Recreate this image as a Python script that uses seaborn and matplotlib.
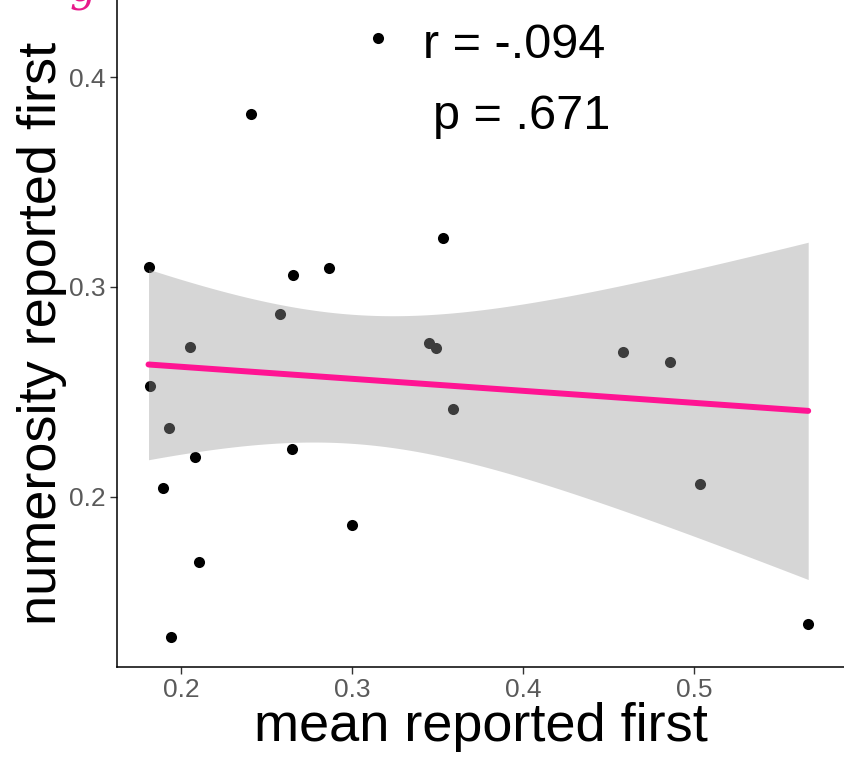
import numpy as np
import matplotlib
matplotlib.use("Agg")
import matplotlib.pyplot as plt
import seaborn as sns

sns.set_style("white")
plt.rcParams["font.family"] = ["Liberation Sans", "DejaVu Sans"]

# values
mean_first = [0.181, 0.182, 0.193, 0.1895, 0.205, 0.208, 0.2105, 0.194,
              0.241, 0.258, 0.2655, 0.265, 0.2865, 0.300, 0.315, 0.353,
              0.345, 0.349, 0.359, 0.4585, 0.4855, 0.503, 0.5665]
numerosity_first = [0.3095, 0.2529, 0.2329, 0.2043, 0.2714, 0.219, 0.169, 0.1333,
                    0.3824, 0.2871, 0.3057, 0.2229, 0.309, 0.1867, 0.4186, 0.3233,
                    0.2733, 0.271, 0.2419, 0.269, 0.2643, 0.2062, 0.1395]
stats_text = ["r = -.094", "p = .671"]

x = np.array(mean_first)
y = np.array(numerosity_first)

fig = plt.figure(figsize=(8.45, 7.64), dpi=100)
ax = fig.add_axes([0.1385, 0.127, 0.8615, 0.873])

sns.regplot(x=x, y=y, ax=ax, ci=None, truncate=True,
            scatter_kws={"s": 64, "color": "black", "alpha": 1, "linewidths": 0},
            line_kws={"color": "#ff1493", "lw": 4.3, "zorder": 3})

# analytic 95% confidence band for the linear fit (like geom_smooth)
n = len(x)
slope, intercept = np.polyfit(x, y, 1)
xg = np.linspace(x.min(), x.max(), 200)
resid = y - (slope * x + intercept)
s_err = np.sqrt(np.sum(resid ** 2) / (n - 2))
t_crit = 2.080  # t(0.975, df=21)
se = s_err * np.sqrt(1 / n + (xg - x.mean()) ** 2 / np.sum((x - x.mean()) ** 2))
fit = slope * xg + intercept
ax.fill_between(xg, fit - t_crit * se, fit + t_crit * se,
                color="#999999", alpha=0.4, linewidth=0, zorder=2)

ax.set_xlim(0.1626, 0.588)
ax.set_ylim(0.119, 0.4367)
ax.set_xticks([0.2, 0.3, 0.4, 0.5])
ax.set_yticks([0.2, 0.3, 0.4])
ax.set_xticklabels(["0.2", "0.3", "0.4", "0.5"])
ax.set_yticklabels(["0.2", "0.3", "0.4"])
ax.tick_params(axis="both", labelsize=19, labelcolor="#5a5a5a", color="#333333",
               length=5, width=1, direction="out", pad=3, left=True, bottom=True)

for side in ["top", "right"]:
    ax.spines[side].set_visible(False)
for side in ["left", "bottom"]:
    ax.spines[side].set_color("black")
    ax.spines[side].set_linewidth(1.1)

ax.set_xlabel("mean reported first", fontsize=39, labelpad=0, color="black")
ax.set_ylabel("numerosity reported first", fontsize=39, labelpad=2, color="black")

ax.text(0.3947, 0.4152, stats_text[0], fontsize=35, ha="center", va="center", color="black")
ax.text(0.3988, 0.381, stats_text[1], fontsize=35, ha="center", va="center", color="black")

# cut-off panel letter in the top-left corner
fig.text(0.098, 0.985, "g", fontsize=30, color="#e8198b", style="italic",
         ha="center", va="bottom", family="DejaVu Serif")

fig.savefig("out.png", dpi=100)
